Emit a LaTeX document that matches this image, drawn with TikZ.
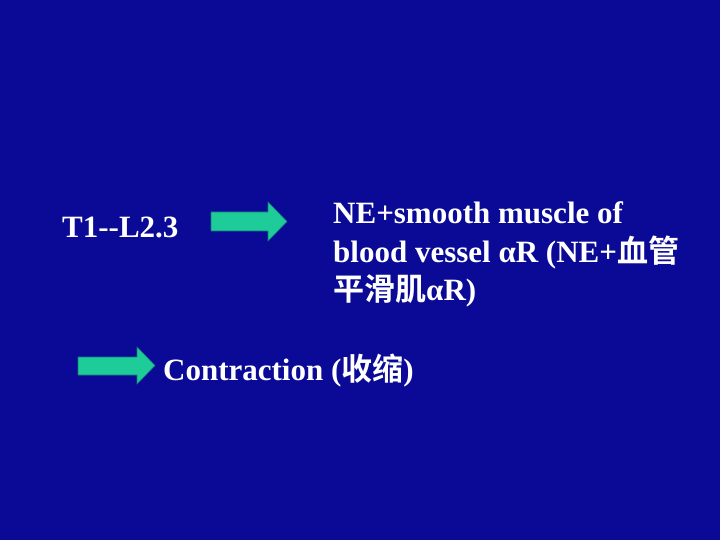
\documentclass[tikz,border=0pt]{standalone}
\usepackage{fontspec}
\setmainfont{Liberation Serif}
\newfontfamily\cjk{Noto Sans CJK SC}[BoldFont={Noto Sans CJK SC Bold}]
\definecolor{slidebg}{RGB}{10,10,150}
\definecolor{arrowfill}{RGB}{30,204,153}
\definecolor{arrowedge}{RGB}{20,120,120}
\tikzset{
  txt/.style={anchor=base west, inner sep=0pt, text=white, font=\fontsize{31}{38}\selectfont\bfseries},
  blockarrow/.style={fill=arrowfill, draw=arrowedge, line width=0.6pt, line join=miter}
}

\begin{document}
\begin{tikzpicture}[x=1pt,y=-1pt]
\fill[slidebg] (0,0) rectangle (720,540);
\useasboundingbox (0,0) rectangle (720,540);

\node[txt] (lev) at (62,237){T1{-}{-}L2.3};
\filldraw[blockarrow] (211,212)--(268,212)--(268,202)--(287,221.5)--(268,241)--(268,231)--(211,231)--cycle;

\node[txt] (la) at (333,223){NE+smooth muscle of};
\node[txt] (lb) at (333,262){blood vessel αR (NE+{\cjk 血管}};
\node[txt] (lc) at (333,300){{\cjk 平滑肌}αR)};

\filldraw[blockarrow] (78,357)--(137,357)--(137,347)--(155,365.5)--(137,384)--(137,375)--(78,375)--cycle;
\node[txt] (res) at (163,380){Contraction ({\cjk 收缩})};
\end{tikzpicture}
\end{document}
